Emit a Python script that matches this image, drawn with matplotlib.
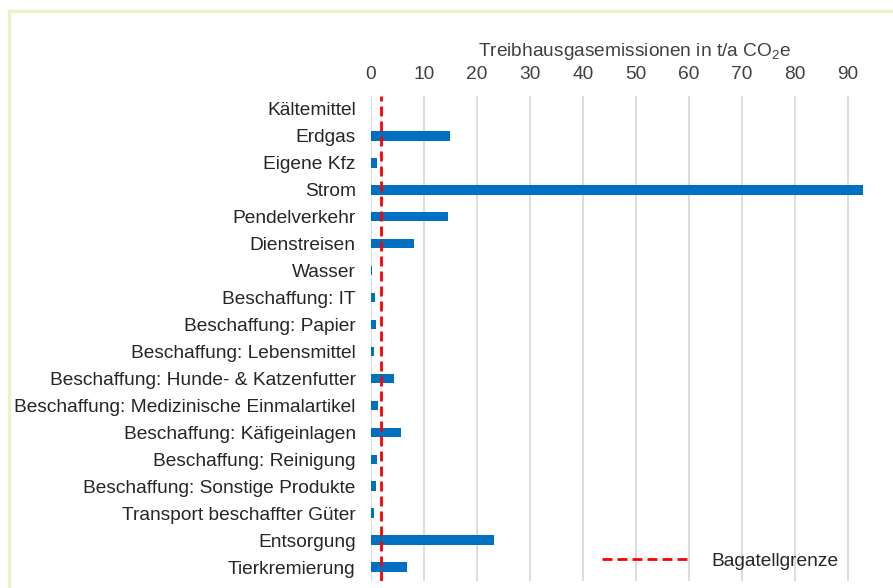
import matplotlib
matplotlib.use("Agg")
import matplotlib.pyplot as plt
from matplotlib.lines import Line2D
from matplotlib.patches import Rectangle

categories = [
    "Kältemittel", "Erdgas", "Eigene Kfz", "Strom", "Pendelverkehr", "Dienstreisen",
    "Wasser", "Beschaffung: IT", "Beschaffung: Papier", "Beschaffung: Lebensmittel",
    "Beschaffung: Hunde- & Katzenfutter", "Beschaffung: Medizinische Einmalartikel",
    "Beschaffung: Käfigeinlagen", "Beschaffung: Reinigung", "Beschaffung: Sonstige Produkte",
    "Transport beschaffter Güter", "Entsorgung", "Tierkremierung",
]
values = [0.05, 15.0, 1.1, 92.9, 14.5, 8.1, 0.25, 0.7, 0.9, 0.6, 4.3, 1.3, 5.6, 1.2, 1.0, 0.5, 23.2, 6.7]
bagatell = 1.85
xticks = [0, 10, 20, 30, 40, 50, 60, 70, 80, 90]

plt.rcParams['font.family'] = ['Liberation Sans', 'DejaVu Sans']
plt.rcParams['mathtext.fontset'] = 'custom'
plt.rcParams['mathtext.rm'] = 'Liberation Sans'

FS = 13.8
W, H = 893, 588
AX_L, AX_R, AX_T, AX_B = 371, 885, 95.5, 580.5
fig = plt.figure(figsize=(W / 100, H / 100), dpi=100)
ax = fig.add_axes([AX_L / W, 1 - AX_B / H, (AX_R - AX_L) / W, (AX_B - AX_T) / H])

y = list(range(len(categories)))
ax.barh(y, values, height=0.35, color="#0070C0", zorder=3)
ax.set_yticks(y)
ax.set_yticklabels(categories, fontsize=FS, color="#262626")
ax.set_ylim(len(categories) - 0.5, -0.5)
ax.set_xlim(0, 97)
ax.xaxis.tick_top()
ax.xaxis.set_label_position("top")
ax.set_xticks(xticks)
ax.tick_params(axis="x", labelsize=FS, labelcolor="#404040", length=0, pad=9)
ax.tick_params(axis="y", length=0, pad=11)
ax.set_xlabel("Treibhausgasemissionen in t/a CO$_\\mathregular{2}$e", fontsize=FS,
              color="#404040", labelpad=7)
ax.xaxis.label.set_x(0.513)
ax.grid(axis="x", color="#D9D9D9", linewidth=1.3, zorder=0)
for s in ax.spines.values():
    s.set_visible(False)

dash = (0, (3.6, 1.8))
ax.axvline(bagatell, color="#FF0000", linestyle=dash, linewidth=2, zorder=4)

# white legend area hiding gridlines in lower right
ytop = (532 - AX_T) / (AX_B - AX_T) * len(categories) - 0.5
ax.add_patch(Rectangle((35, ytop), 70, len(categories), facecolor="white",
                       edgecolor="none", zorder=1, clip_on=True))

handle = Line2D([], [], color="#FF0000", linestyle=dash, linewidth=2)
lx = (602 - AX_L) / (AX_R - AX_L)
ly = 1 - (561 - AX_T) / (AX_B - AX_T)
leg = ax.legend([handle], ["Bagatellgrenze"], loc="center left", bbox_to_anchor=(lx, ly),
                fontsize=FS, frameon=False, handlelength=4.7, handletextpad=1.0,
                borderpad=0, borderaxespad=0)
leg.set_zorder(5)
for t in leg.get_texts():
    t.set_color("#262626")

# frame border
fig.add_artist(Line2D([8.5 / W, 8.5 / W], [1 - 11 / H, 0], transform=fig.transFigure,
                      color="#EFEFC8", linewidth=2.5))
fig.add_artist(Line2D([8.5 / W, 1], [1 - 11 / H, 1 - 11 / H], transform=fig.transFigure,
                      color="#EFEFC8", linewidth=2.5))

fig.savefig("out.png", dpi=100, facecolor="white")
